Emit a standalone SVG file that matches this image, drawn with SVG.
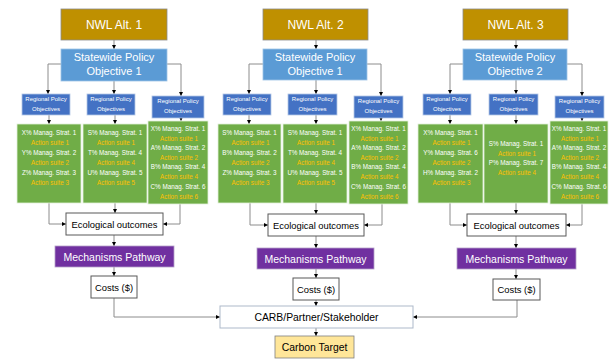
<svg xmlns="http://www.w3.org/2000/svg" width="610" height="360" viewBox="0 0 610 360">
<style>
text{font-family:"Liberation Sans",Arial,sans-serif;text-anchor:middle}
.nwl{fill:#BF9000;stroke:#8C8C8C;stroke-width:0.8}
.spo{fill:#5B9BD5;stroke:#9DC3E6;stroke-width:0.8}
.reg{fill:#4472C4;stroke:#B4C7E7;stroke-width:0.8}
.grn{fill:#70AD47;stroke:#E2EFD9;stroke-width:0.8}
.eco{fill:#FFFFFF;stroke:#595959;stroke-width:1}
.mech{fill:#7030A0;stroke:#B4A0C8;stroke-width:0.8}
.cost{fill:#FFFFFF;stroke:#595959;stroke-width:1}
.carb{fill:#FFFFFF;stroke:#ADB9CA;stroke-width:1}
.tgt{fill:#FFE699;stroke:#7F7F7F;stroke-width:0.8}
.t1{fill:#FFFFFF;font-size:12px}
.t2{fill:#FFFFFF;font-size:11px}
.t3{fill:#FFFFFF;font-size:6px}
.w{fill:#FFFFFF;font-size:6.3px}
.o{fill:#FFC000;font-size:6.3px}
.tb{fill:#000000;font-size:9.4px}
.tm{fill:#FFFFFF;font-size:10.5px}
.tc{fill:#000000;font-size:10.4px}
.conn path{fill:none;stroke:#8C8C8C;stroke-width:1;marker-end:url(#ah)}
</style>
<defs>
<marker id="ah" viewBox="0 0 6 6" refX="6" refY="3" markerWidth="4" markerHeight="4" orient="auto" markerUnits="userSpaceOnUse">
<path d="M0,0 L6,3 L0,6 Z" fill="#000000"/>
</marker>
</defs>
<rect width="610" height="360" fill="#FFFFFF"/>

<g id="connectors" class="conn">
<!-- column 1 -->
<path d="M114,40 V49"/>
<path d="M61,64 H48 V94"/>
<path d="M114,81 V94"/>
<path d="M167,64 H181 V96"/>
<path d="M49,115 V124"/>
<path d="M115,115 V124"/>
<path d="M181,118 V121"/>
<path d="M49,203 V224 H66"/>
<path d="M115,203 V213"/>
<path d="M180,204 V224 H163"/>
<path d="M114,235 V246"/>
<path d="M114,267 V276"/>
<path d="M114,298 V317 H220"/>
<!-- column 2 -->
<path d="M316,40 V49"/>
<path d="M263,64 H249 V94"/>
<path d="M316,80 V94"/>
<path d="M367,64 H381 V96"/>
<path d="M249,115 V124"/>
<path d="M316,115 V124"/>
<path d="M381,118 V121"/>
<path d="M250,203 V225 H268"/>
<path d="M316,203 V214"/>
<path d="M382,204 V225 H364"/>
<path d="M316,236 V248"/>
<path d="M316,269 V278"/>
<path d="M316,300 V306"/>
<path d="M316,328 V336"/>
<!-- column 3 -->
<path d="M516,40 V49"/>
<path d="M463,64 H450 V94"/>
<path d="M516,80 V94"/>
<path d="M567,64 H582 V96"/>
<path d="M450,115 V124"/>
<path d="M516,115 V124"/>
<path d="M582,118 V121"/>
<path d="M450,203 V225 H467"/>
<path d="M516,203 V214"/>
<path d="M582,204 V225 H566"/>
<path d="M516,236 V248"/>
<path d="M516,269 V279"/>
<path d="M517,300 V317 H413"/>
</g>

<!-- Column 1 -->
<g id="nwl1"><rect class="nwl" x="61" y="9" width="106" height="31"/><text class="t1" x="114" y="29">NWL Alt. 1</text></g>
<g id="spo1"><rect class="spo" x="61" y="49" width="106" height="32"/><text class="t2" x="114" y="61">Statewide Policy</text><text class="t2" x="114" y="75">Objective 1</text></g>
<g id="reg1a"><rect class="reg" x="22" y="94" width="48" height="21"/><text class="t3" x="46" y="101">Regional Policy</text><text class="t3" x="46" y="111">Objectives</text></g>
<g id="reg1b"><rect class="reg" x="87" y="94" width="48" height="21"/><text class="t3" x="111" y="101">Regional Policy</text><text class="t3" x="111" y="111">Objectives</text></g>
<g id="reg1c"><rect class="reg" x="152" y="96" width="52" height="22"/><text class="t3" x="178" y="103">Regional Policy</text><text class="t3" x="178" y="113">Objectives</text></g>
<g id="grn1a"><rect class="grn" x="17" y="124" width="64" height="79"/>
<text class="w" x="49" y="135.3">X% Manag. Strat. 1</text><text class="o" x="50" y="145.3">Action suite 1</text>
<text class="w" x="49" y="155.3">Y% Manag. Strat. 2</text><text class="o" x="50" y="165.3">Action suite 2</text>
<text class="w" x="49" y="175.3">Z% Manag. Strat. 3</text><text class="o" x="50" y="185.3">Action suite 3</text></g>
<g id="grn1b"><rect class="grn" x="83" y="124" width="64" height="79"/>
<text class="w" x="115" y="135.3">S% Manag. Strat. 1</text><text class="o" x="116" y="145.3">Action suite 1</text>
<text class="w" x="115" y="155.3">T% Manag. Strat. 4</text><text class="o" x="116" y="165.3">Action suite 4</text>
<text class="w" x="115" y="175.3">U% Manag. Strat. 5</text><text class="o" x="116" y="185.3">Action suite 5</text></g>
<g id="grn1c"><rect class="grn" x="148" y="121" width="60" height="83"/>
<text class="w" x="178" y="131.3">X% Manag. Strat. 1</text><text class="o" x="179" y="141.3">Action suite 1</text>
<text class="w" x="178" y="150.3">A% Manag. Strat. 2</text><text class="o" x="179" y="160.3">Action suite 2</text>
<text class="w" x="178" y="169.3">B% Manag. Strat. 4</text><text class="o" x="179" y="179.3">Action suite 4</text>
<text class="w" x="178" y="189.3">C% Manag. Strat. 6</text><text class="o" x="179" y="199.3">Action suite 6</text></g>
<g id="eco1"><rect class="eco" x="66" y="213" width="97" height="22"/><text class="tb" x="114.5" y="227.5">Ecological outcomes</text></g>
<g id="mech1"><rect class="mech" x="55" y="246" width="119" height="21"/><text class="tm" x="114.5" y="260.5">Mechanisms Pathway</text></g>
<g id="cost1"><rect class="cost" x="91" y="276" width="46" height="22"/><text class="tb" x="114" y="290.5">Costs ($)</text></g>

<!-- Column 2 -->
<g id="nwl2"><rect class="nwl" x="263" y="9" width="105" height="31"/><text class="t1" x="315.5" y="29">NWL Alt. 2</text></g>
<g id="spo2"><rect class="spo" x="263" y="49" width="104" height="31"/><text class="t2" x="315" y="61">Statewide Policy</text><text class="t2" x="315" y="75">Objective 1</text></g>
<g id="reg2a"><rect class="reg" x="223" y="94" width="48" height="21"/><text class="t3" x="247" y="101">Regional Policy</text><text class="t3" x="247" y="111">Objectives</text></g>
<g id="reg2b"><rect class="reg" x="288" y="94" width="49" height="21"/><text class="t3" x="312.5" y="101">Regional Policy</text><text class="t3" x="312.5" y="111">Objectives</text></g>
<g id="reg2c"><rect class="reg" x="354" y="96" width="49" height="22"/><text class="t3" x="378.5" y="103">Regional Policy</text><text class="t3" x="378.5" y="113">Objectives</text></g>
<g id="grn2a"><rect class="grn" x="218" y="124" width="63" height="79"/>
<text class="w" x="249.5" y="135.3">S% Manag. Strat. 1</text><text class="o" x="250.5" y="145.3">Action suite 1</text>
<text class="w" x="249.5" y="155.3">B% Manag. Strat. 2</text><text class="o" x="250.5" y="165.3">Action suite 2</text>
<text class="w" x="249.5" y="175.3">Z% Manag. Strat. 3</text><text class="o" x="250.5" y="185.3">Action suite 3</text></g>
<g id="grn2b"><rect class="grn" x="283" y="124" width="64" height="79"/>
<text class="w" x="315" y="135.3">S% Manag. Strat. 1</text><text class="o" x="316" y="145.3">Action suite 1</text>
<text class="w" x="315" y="155.3">T% Manag. Strat. 4</text><text class="o" x="316" y="165.3">Action suite 4</text>
<text class="w" x="315" y="175.3">U% Manag. Strat. 5</text><text class="o" x="316" y="185.3">Action suite 5</text></g>
<g id="grn2c"><rect class="grn" x="349" y="121" width="59" height="83"/>
<text class="w" x="378.5" y="131.3">X% Manag. Strat. 1</text><text class="o" x="379.5" y="141.3">Action suite 1</text>
<text class="w" x="378.5" y="150.3">A% Manag. Strat. 2</text><text class="o" x="379.5" y="160.3">Action suite 2</text>
<text class="w" x="378.5" y="169.3">B% Manag. Strat. 4</text><text class="o" x="379.5" y="179.3">Action suite 4</text>
<text class="w" x="378.5" y="189.3">C% Manag. Strat. 6</text><text class="o" x="379.5" y="199.3">Action suite 6</text></g>
<g id="eco2"><rect class="eco" x="268" y="214" width="96" height="22"/><text class="tb" x="316" y="228.5">Ecological outcomes</text></g>
<g id="mech2"><rect class="mech" x="257" y="248" width="117" height="21"/><text class="tm" x="315.5" y="262.5">Mechanisms Pathway</text></g>
<g id="cost2"><rect class="cost" x="293" y="278" width="46" height="22"/><text class="tb" x="316" y="292.5">Costs ($)</text></g>

<!-- Column 3 -->
<g id="nwl3"><rect class="nwl" x="463" y="9" width="105" height="31"/><text class="t1" x="515.5" y="29">NWL Alt. 3</text></g>
<g id="spo3"><rect class="spo" x="463" y="49" width="104" height="31"/><text class="t2" x="515" y="61">Statewide Policy</text><text class="t2" x="515" y="75">Objective 2</text></g>
<g id="reg3a"><rect class="reg" x="423" y="94" width="48" height="21"/><text class="t3" x="447" y="101">Regional Policy</text><text class="t3" x="447" y="111">Objectives</text></g>
<g id="reg3b"><rect class="reg" x="489" y="94" width="49" height="21"/><text class="t3" x="513.5" y="101">Regional Policy</text><text class="t3" x="513.5" y="111">Objectives</text></g>
<g id="reg3c"><rect class="reg" x="555" y="96" width="49" height="22"/><text class="t3" x="579.5" y="103">Regional Policy</text><text class="t3" x="579.5" y="113">Objectives</text></g>
<g id="grn3a"><rect class="grn" x="418" y="124" width="65" height="79"/>
<text class="w" x="450.5" y="135.3">X% Manag. Strat. 1</text><text class="o" x="451.5" y="145.3">Action suite 1</text>
<text class="w" x="450.5" y="155.3">Y% Manag. Strat. 6</text><text class="o" x="451.5" y="165.3">Action suite 2</text>
<text class="w" x="450.5" y="175.3">H% Manag. Strat. 2</text><text class="o" x="451.5" y="185.3">Action suite 3</text></g>
<g id="grn3b"><rect class="grn" x="484" y="124" width="64" height="79"/>
<text class="w" x="516" y="146.3">S% Manag. Strat. 1</text><text class="o" x="517" y="156.3">Action suite 1</text>
<text class="w" x="516" y="165.3">P% Manag. Strat. 7</text><text class="o" x="517" y="175.3">Action suite 4</text></g>
<g id="grn3c"><rect class="grn" x="550" y="121" width="58" height="83"/>
<text class="w" x="579" y="131.3">X% Manag. Strat. 1</text><text class="o" x="580" y="141.3">Action suite 1</text>
<text class="w" x="579" y="150.3">A% Manag. Strat. 2</text><text class="o" x="580" y="160.3">Action suite 2</text>
<text class="w" x="579" y="169.3">B% Manag. Strat. 4</text><text class="o" x="580" y="179.3">Action suite 4</text>
<text class="w" x="579" y="189.3">C% Manag. Strat. 6</text><text class="o" x="580" y="199.3">Action suite 6</text></g>
<g id="eco3"><rect class="eco" x="467" y="214" width="99" height="22"/><text class="tb" x="516.5" y="228.5">Ecological outcomes</text></g>
<g id="mech3"><rect class="mech" x="457" y="248" width="119" height="21"/><text class="tm" x="516.5" y="262.5">Mechanisms Pathway</text></g>
<g id="cost3"><rect class="cost" x="493" y="279" width="47" height="21"/><text class="tb" x="516.5" y="293">Costs ($)</text></g>

<!-- Bottom -->
<g id="carb"><rect class="carb" x="220" y="306" width="193" height="22"/><text class="tc" x="316.5" y="320.7">CARB/Partner/Stakeholder</text></g>
<g id="target"><rect class="tgt" x="275" y="336" width="79" height="22"/><text class="tc" x="314.5" y="350.5">Carbon Target</text></g>
</svg>
